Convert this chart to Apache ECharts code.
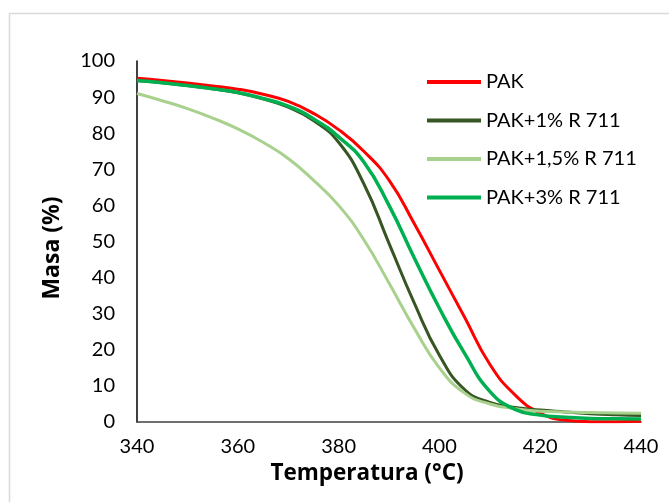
<!DOCTYPE html>
<html>
<head>
<meta charset="utf-8">
<script src="https://cdn.jsdelivr.net/npm/echarts@6/dist/echarts.min.js"></script>
<style>
html,body{margin:0;padding:0;background:#fff;}
#c{width:669px;height:502px;}
</style>
</head>
<body>
<div id="c"></div>
<script>
const temps = [340,345,350,355,360,365,370,375,380,385,390,395,400,405,410,415,420,425,430,435,440];
const seriesNames = ['PAK','PAK+1% R 711','PAK+1,5% R 711','PAK+3% R 711'];
const pak      = [95.2,94.6,93.9,93.1,92.2,90.8,88.8,85.5,81.0,75.0,67.0,55.0,42.0,29.0,16.0,7.5,2.5,0.5,0.1,0.1,0.2];
const pak1     = [94.6,94.0,93.2,92.3,91.2,89.5,87.2,83.5,77.5,66.0,49.5,33.0,18.5,9.0,5.4,4.0,3.3,2.8,2.3,2.0,1.8];
const pak15    = [91.0,89.0,86.8,84.2,81.2,77.5,73.0,67.0,60.0,50.5,38.5,26.0,15.0,8.0,5.0,3.7,3.0,2.8,2.6,2.5,2.4];
const pak3     = [94.6,94.0,93.2,92.3,91.3,89.6,87.5,84.0,79.0,72.0,60.0,45.5,31.5,19.0,8.5,3.5,1.9,1.3,1.0,0.9,0.8];
const xTicks = [340,360,380,400,420,440];
const yTicks = [0,10,20,30,40,50,60,70,80,90,100];

const values = [pak, pak1, pak15, pak3];
const colors = ['#FF0000','#375623','#A9D18E','#00B050'];
const widths = [3,3,3,3.5];
const FONT = 'Lato, "Open Sans", sans-serif';
const TFONT = '"Open Sans", Lato, sans-serif';

const chart = echarts.init(document.getElementById('c'), null, {renderer:'canvas'});
chart.setOption({
  backgroundColor:'#fff',
  animation:false,
  graphic:[{type:'rect', shape:{x:9.5,y:13.5,width:800,height:600}, style:{fill:'none', stroke:'#d9d9d9', lineWidth:1.5}, silent:true}],
  grid:{left:137, right:28, top:61, bottom:80},
  legend:{
    orient:'vertical', left:427, top:72, padding:0, itemGap:18.5, itemWidth:54, itemHeight:4, icon:'rect',
    textStyle:{fontFamily:FONT, fontSize:20, color:'#000'},
    data: seriesNames
  },
  xAxis:{
    type:'value', min:xTicks[0], max:xTicks[xTicks.length-1], interval:20,
    axisLine:{lineStyle:{color:'#404040', width:1.5}},
    axisTick:{show:false}, splitLine:{show:false},
    axisLabel:{fontFamily:FONT, fontSize:20, color:'#000', margin:15},
    name:'Temperatura (°C)', nameLocation:'middle', nameGap:38,
    nameTextStyle:{fontFamily:TFONT, fontSize:22.5, fontWeight:'bold', color:'#000', padding:[0,44,0,0]}
  },
  yAxis:{
    type:'value', min:yTicks[0], max:yTicks[yTicks.length-1], interval:10,
    axisLine:{show:true, lineStyle:{color:'#000', width:1.5}},
    axisTick:{show:false}, splitLine:{show:false},
    axisLabel:{fontFamily:FONT, fontSize:20, color:'#000', margin:22},
    name:'Masa (%)', nameLocation:'middle', nameGap:73, nameRotate:90,
    nameTextStyle:{fontFamily:TFONT, fontSize:23, fontWeight:'bold', color:'#000', padding:[0,13,0,0]}
  },
  series: seriesNames.map((n,i)=>({
    name:n, type:'line', showSymbol:false, symbol:'none', smooth:0.5,
    color:colors[i],
    lineStyle:{color:colors[i], width:widths[i]},
    data: temps.map((t,j)=>[t, values[i][j]])
  }))
});
</script>
</body>
</html>
